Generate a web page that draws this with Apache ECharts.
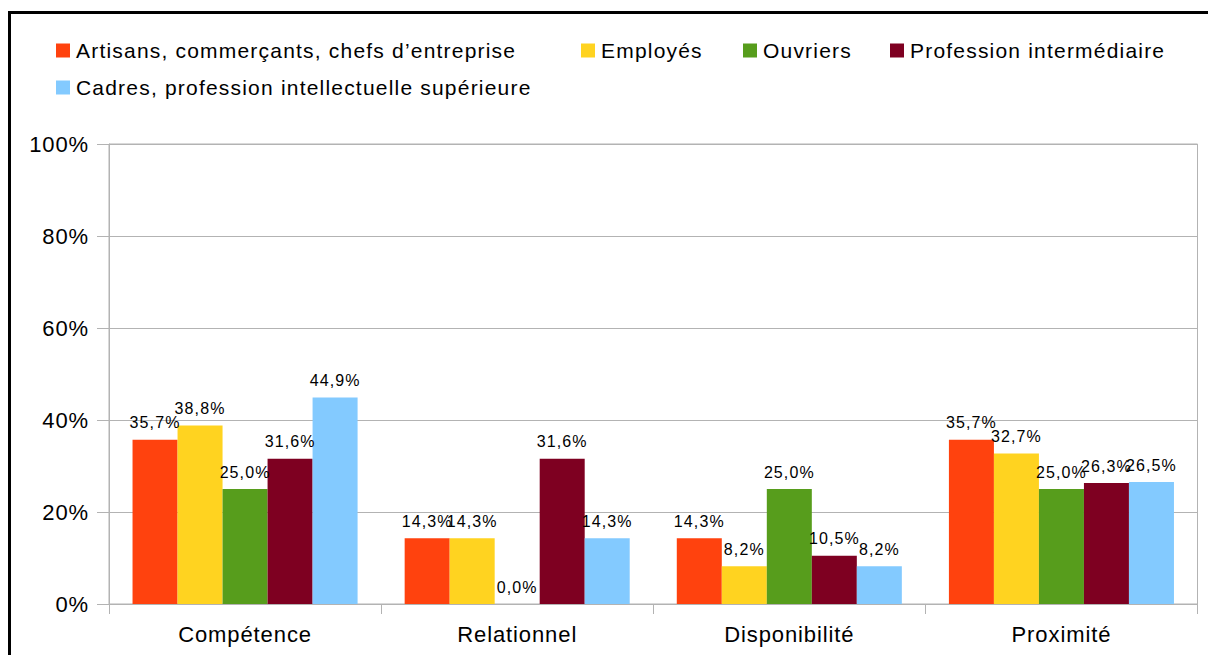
<!DOCTYPE html>
<html>
<head>
<meta charset="utf-8">
<script src="https://cdn.jsdelivr.net/npm/echarts@6/dist/echarts.min.js"></script>
<style>
  html, body { margin: 0; padding: 0; background: #fff; }
  #frame { position: absolute; left: 8px; top: 11px; width: 1400px; height: 900px;
           border-left: 3px solid #000; border-top: 3px solid #000; box-sizing: border-box; }
  #chart { position: absolute; left: 0; top: 0; width: 1208px; height: 655px; }
  /* slightly open tracking on the chart texts */
  #chart svg text[style*="21px"] { letter-spacing: 1.2px; }
  #chart svg text[style*="22px"] { letter-spacing: 0.9px; }
  #chart svg text[style*="16px"] { letter-spacing: 1.1px; }
</style>
</head>
<body>
<div id="frame"></div>
<div id="chart"></div>
<script>
// Categories of the question
const categories = ['Compétence', 'Relationnel', 'Disponibilité', 'Proximité'];

// Series names (socio-professional groups)
const seriesNames = [
  'Artisans, commerçants, chefs d\u2019entreprise',
  'Employés',
  'Ouvriers',
  'Profession intermédiaire',
  'Cadres, profession intellectuelle supérieure'
];

// Percent values per group, in category order
const artisans = [35.7, 14.3, 14.3, 35.7];
const employes = [38.8, 14.3, 8.2, 32.7];
const ouvriers = [25.0, 0.0, 25.0, 25.0];
const professionIntermediaire = [31.6, 31.6, 10.5, 26.3];
const cadres = [44.9, 14.3, 8.2, 26.5];

// Y axis tick labels
const yTicks = [0, 20, 40, 60, 80, 100];

const seriesData = [artisans, employes, ouvriers, professionIntermediaire, cadres];
const colors = ['#ff420e', '#ffd320', '#579d1c', '#7e0021', '#83caff'];

const fontFamily = '"Liberation Sans", Arial, sans-serif';
const fmt = v => v.toFixed(1).replace('.', ',') + '%';

// Legend positions: four items on the first row, one on the second
const legendPos = [
  { left: 56, top: 40 },
  { left: 581, top: 40 },
  { left: 743, top: 40 },
  { left: 890, top: 40 },
  { left: 56, top: 77 }
];

const chart = echarts.init(document.getElementById('chart'), null, { renderer: 'svg' });

chart.setOption({
  animation: false,
  textStyle: { fontFamily },
  color: colors,
  legend: seriesNames.map((name, i) => ({
    data: [name],
    left: legendPos[i].left,
    top: legendPos[i].top,
    padding: 0,
    icon: 'rect',
    itemWidth: 14,
    itemHeight: 14,
    selectedMode: false,
    textStyle: { fontSize: 21, color: '#000', fontFamily, padding: [0, 0, 0, 1] }
  })),
  grid: {
    left: 109, right: 10.5, top: 144, bottom: 51,
    show: true, borderColor: '#b3b3b3', borderWidth: 1,
    containLabel: false
  },
  xAxis: {
    type: 'category',
    data: categories,
    axisLine: { lineStyle: { color: '#b3b3b3', width: 1 } },
    axisTick: { show: true, length: 10, lineStyle: { color: '#b3b3b3' } },
    axisLabel: { fontSize: 22, color: '#000', margin: 19, fontFamily },
    splitLine: { show: false }
  },
  yAxis: {
    type: 'value',
    min: yTicks[0],
    max: yTicks[yTicks.length - 1],
    interval: yTicks[1] - yTicks[0],
    axisLine: { show: true, lineStyle: { color: '#b3b3b3', width: 1 } },
    axisTick: { show: true, length: 12, lineStyle: { color: '#b3b3b3' } },
    axisLabel: { fontSize: 22, color: '#000', margin: 20, fontFamily,
                 formatter: v => v + '%' },
    splitLine: { show: true, lineStyle: { color: '#b3b3b3', width: 1 } }
  },
  series: seriesNames.map((name, i) => ({
    name,
    type: 'bar',
    data: seriesData[i],
    barGap: '0%',
    barCategoryGap: '17.3%',
    itemStyle: { color: colors[i] },
    label: {
      show: true,
      position: 'top',
      distance: 9,
      fontSize: 16,
      color: '#000',
      fontFamily,
      formatter: p => fmt(p.value)
    }
  }))
});
</script>
</body>
</html>
